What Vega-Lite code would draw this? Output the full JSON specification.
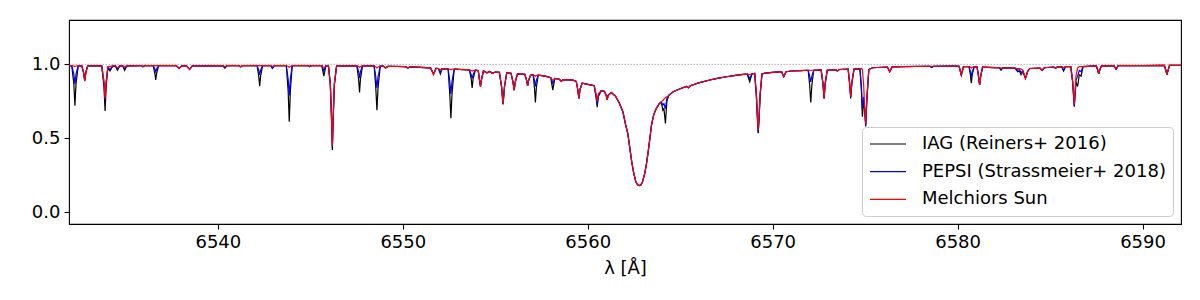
{
"$schema":"https://vega.github.io/schema/vega-lite/v6.json",
"width":1112,"height":204,"autosize":"none",
"padding":{"left":69,"top":20,"right":19,"bottom":76},
"config":{"view":{"stroke":"black","strokeWidth":1.1},
"axis":{"domain":false,"grid":false,"tickColor":"black","tickSize":5,"tickWidth":1.1,"labelFont":"DejaVu Sans","labelFontSize":18,"labelColor":"black","titleFont":"DejaVu Sans","titleFontSize":18,"titleFontWeight":"normal","titleColor":"black","labelPadding":4},
"legend":{"labelFont":"DejaVu Sans","labelFontSize":18,"labelColor":"black"}},
"data":{"values":[
{"w":6531.95,"A":0.992,"B":0.992,"C":0.992},
{"w":6532.10,"A":0.99,"B":0.99,"C":0.992},
{"w":6532.21,"A":0.87,"B":0.935,"C":0.989},
{"w":6532.27,"A":0.72,"B":0.865,"C":0.985},
{"w":6532.33,"A":0.87,"B":0.935,"C":0.989},
{"w":6532.45,"A":0.99,"B":0.99,"C":0.99},
{"w":6532.64,"A":0.99,"B":0.99,"C":0.99},
{"w":6532.74,"A":0.945,"B":0.945,"C":0.94},
{"w":6532.80,"A":0.89,"B":0.89,"C":0.887},
{"w":6532.86,"A":0.945,"B":0.945,"C":0.94},
{"w":6532.96,"A":0.99,"B":0.99,"C":0.99},
{"w":6533.72,"A":0.99,"B":0.99,"C":0.99},
{"w":6533.84,"A":0.85,"B":0.88,"C":0.885},
{"w":6533.90,"A":0.685,"B":0.76,"C":0.77},
{"w":6533.96,"A":0.85,"B":0.88,"C":0.885},
{"w":6534.05,"A":0.975,"B":0.98,"C":0.985},
{"w":6534.17,"A":0.955,"B":0.965,"C":0.985},
{"w":6534.30,"A":0.985,"B":0.988,"C":0.99},
{"w":6534.45,"A":0.99,"B":0.99,"C":0.99},
{"w":6534.57,"A":0.96,"B":0.965,"C":0.975},
{"w":6534.70,"A":0.99,"B":0.99,"C":0.99},
{"w":6534.85,"A":0.99,"B":0.99,"C":0.99},
{"w":6534.96,"A":0.96,"B":0.97,"C":0.985},
{"w":6535.08,"A":0.99,"B":0.99,"C":0.99},
{"w":6535.85,"A":0.992,"B":0.992,"C":0.992},
{"w":6535.95,"A":0.983,"B":0.983,"C":0.985},
{"w":6536.05,"A":0.992,"B":0.992,"C":0.992},
{"w":6536.50,"A":0.992,"B":0.992,"C":0.992},
{"w":6536.59,"A":0.94,"B":0.97,"C":0.991},
{"w":6536.64,"A":0.894,"B":0.95,"C":0.99},
{"w":6536.69,"A":0.94,"B":0.97,"C":0.991},
{"w":6536.80,"A":0.992,"B":0.992,"C":0.992},
{"w":6537.75,"A":0.992,"B":0.992,"C":0.992},
{"w":6537.90,"A":0.973,"B":0.973,"C":0.973},
{"w":6538.05,"A":0.99,"B":0.99,"C":0.99},
{"w":6538.30,"A":0.99,"B":0.99,"C":0.99},
{"w":6538.47,"A":0.966,"B":0.966,"C":0.966},
{"w":6538.62,"A":0.99,"B":0.99,"C":0.99},
{"w":6539.50,"A":0.99,"B":0.99,"C":0.99},
{"w":6540.25,"A":0.992,"B":0.992,"C":0.992},
{"w":6540.38,"A":0.975,"B":0.98,"C":0.985},
{"w":6540.50,"A":0.992,"B":0.992,"C":0.992},
{"w":6541.12,"A":0.992,"B":0.992,"C":0.992},
{"w":6541.23,"A":0.984,"B":0.984,"C":0.984},
{"w":6541.35,"A":0.992,"B":0.992,"C":0.992},
{"w":6542.12,"A":0.992,"B":0.992,"C":0.992},
{"w":6542.21,"A":0.92,"B":0.96,"C":0.991},
{"w":6542.26,"A":0.853,"B":0.928,"C":0.99},
{"w":6542.31,"A":0.92,"B":0.96,"C":0.991},
{"w":6542.42,"A":0.992,"B":0.992,"C":0.992},
{"w":6542.85,"A":0.992,"B":0.992,"C":0.992},
{"w":6542.95,"A":0.973,"B":0.975,"C":0.985},
{"w":6543.05,"A":0.992,"B":0.992,"C":0.992},
{"w":6543.70,"A":0.992,"B":0.992,"C":0.992},
{"w":6543.80,"A":0.82,"B":0.9,"C":0.986},
{"w":6543.86,"A":0.612,"B":0.79,"C":0.98},
{"w":6543.92,"A":0.82,"B":0.9,"C":0.986},
{"w":6544.02,"A":0.992,"B":0.992,"C":0.992},
{"w":6544.85,"A":0.992,"B":0.992,"C":0.992},
{"w":6544.96,"A":0.985,"B":0.985,"C":0.985},
{"w":6545.07,"A":0.992,"B":0.992,"C":0.992},
{"w":6545.62,"A":0.992,"B":0.992,"C":0.992},
{"w":6545.73,"A":0.92,"B":0.955,"C":0.975},
{"w":6545.84,"A":0.99,"B":0.99,"C":0.99},
{"w":6545.98,"A":0.99,"B":0.99,"C":0.99},
{"w":6546.08,"A":0.86,"B":0.87,"C":0.87},
{"w":6546.14,"A":0.65,"B":0.66,"C":0.66},
{"w":6546.19,"A":0.42,"B":0.44,"C":0.45},
{"w":6546.24,"A":0.65,"B":0.66,"C":0.66},
{"w":6546.30,"A":0.86,"B":0.87,"C":0.87},
{"w":6546.42,"A":0.99,"B":0.99,"C":0.99},
{"w":6547.52,"A":0.99,"B":0.99,"C":0.99},
{"w":6547.61,"A":0.9,"B":0.95,"C":0.985},
{"w":6547.66,"A":0.81,"B":0.907,"C":0.98},
{"w":6547.71,"A":0.9,"B":0.95,"C":0.985},
{"w":6547.82,"A":0.99,"B":0.99,"C":0.99},
{"w":6548.45,"A":0.99,"B":0.99,"C":0.99},
{"w":6548.54,"A":0.84,"B":0.915,"C":0.982},
{"w":6548.60,"A":0.69,"B":0.84,"C":0.975},
{"w":6548.66,"A":0.84,"B":0.915,"C":0.982},
{"w":6548.78,"A":0.988,"B":0.988,"C":0.988},
{"w":6548.95,"A":0.988,"B":0.988,"C":0.988},
{"w":6549.07,"A":0.975,"B":0.975,"C":0.975},
{"w":6549.20,"A":0.987,"B":0.987,"C":0.987},
{"w":6550.15,"A":0.984,"B":0.984,"C":0.984},
{"w":6550.27,"A":0.975,"B":0.975,"C":0.975},
{"w":6550.40,"A":0.983,"B":0.983,"C":0.983},
{"w":6551.50,"A":0.976,"B":0.976,"C":0.976},
{"w":6551.66,"A":0.935,"B":0.935,"C":0.93},
{"w":6551.80,"A":0.973,"B":0.973,"C":0.973},
{"w":6551.93,"A":0.972,"B":0.972,"C":0.972},
{"w":6552.03,"A":0.935,"B":0.945,"C":0.96},
{"w":6552.13,"A":0.971,"B":0.971,"C":0.971},
{"w":6552.45,"A":0.969,"B":0.969,"C":0.969},
{"w":6552.54,"A":0.8,"B":0.885,"C":0.967},
{"w":6552.60,"A":0.635,"B":0.8,"C":0.963},
{"w":6552.66,"A":0.8,"B":0.885,"C":0.967},
{"w":6552.78,"A":0.968,"B":0.968,"C":0.968},
{"w":6553.60,"A":0.962,"B":0.962,"C":0.962},
{"w":6553.70,"A":0.9,"B":0.93,"C":0.958},
{"w":6553.75,"A":0.84,"B":0.905,"C":0.955},
{"w":6553.80,"A":0.9,"B":0.93,"C":0.958},
{"w":6553.92,"A":0.96,"B":0.96,"C":0.96},
{"w":6554.08,"A":0.958,"B":0.958,"C":0.958},
{"w":6554.14,"A":0.9,"B":0.9,"C":0.9},
{"w":6554.20,"A":0.85,"B":0.85,"C":0.85},
{"w":6554.26,"A":0.9,"B":0.9,"C":0.9},
{"w":6554.36,"A":0.955,"B":0.955,"C":0.955},
{"w":6554.55,"A":0.943,"B":0.943,"C":0.943},
{"w":6554.70,"A":0.952,"B":0.952,"C":0.952},
{"w":6554.85,"A":0.94,"B":0.94,"C":0.94},
{"w":6555.00,"A":0.948,"B":0.948,"C":0.948},
{"w":6555.22,"A":0.946,"B":0.946,"C":0.946},
{"w":6555.34,"A":0.85,"B":0.85,"C":0.85},
{"w":6555.42,"A":0.73,"B":0.73,"C":0.73},
{"w":6555.50,"A":0.85,"B":0.85,"C":0.85},
{"w":6555.62,"A":0.943,"B":0.943,"C":0.943},
{"w":6555.85,"A":0.94,"B":0.94,"C":0.94},
{"w":6555.96,"A":0.88,"B":0.88,"C":0.88},
{"w":6556.02,"A":0.826,"B":0.826,"C":0.826},
{"w":6556.08,"A":0.88,"B":0.88,"C":0.88},
{"w":6556.20,"A":0.936,"B":0.936,"C":0.936},
{"w":6556.60,"A":0.933,"B":0.933,"C":0.933},
{"w":6556.70,"A":0.89,"B":0.89,"C":0.89},
{"w":6556.75,"A":0.855,"B":0.855,"C":0.855},
{"w":6556.80,"A":0.89,"B":0.89,"C":0.89},
{"w":6556.92,"A":0.929,"B":0.929,"C":0.929},
{"w":6557.05,"A":0.928,"B":0.928,"C":0.928},
{"w":6557.12,"A":0.84,"B":0.89,"C":0.924},
{"w":6557.17,"A":0.743,"B":0.85,"C":0.92},
{"w":6557.22,"A":0.84,"B":0.89,"C":0.924},
{"w":6557.32,"A":0.927,"B":0.927,"C":0.927},
{"w":6557.70,"A":0.92,"B":0.92,"C":0.92},
{"w":6558.00,"A":0.91,"B":0.91,"C":0.91},
{"w":6558.11,"A":0.826,"B":0.87,"C":0.89},
{"w":6558.22,"A":0.905,"B":0.905,"C":0.905},
{"w":6558.47,"A":0.899,"B":0.899,"C":0.899},
{"w":6558.57,"A":0.885,"B":0.885,"C":0.885},
{"w":6558.67,"A":0.897,"B":0.897,"C":0.897},
{"w":6559.20,"A":0.893,"B":0.893,"C":0.893},
{"w":6559.38,"A":0.885,"B":0.885,"C":0.885},
{"w":6559.46,"A":0.83,"B":0.83,"C":0.83},
{"w":6559.52,"A":0.77,"B":0.77,"C":0.77},
{"w":6559.58,"A":0.83,"B":0.83,"C":0.83},
{"w":6559.70,"A":0.872,"B":0.872,"C":0.872},
{"w":6560.00,"A":0.865,"B":0.865,"C":0.865},
{"w":6560.20,"A":0.86,"B":0.86,"C":0.86},
{"w":6560.35,"A":0.855,"B":0.855,"C":0.855},
{"w":6560.45,"A":0.78,"B":0.79,"C":0.8},
{"w":6560.51,"A":0.71,"B":0.725,"C":0.75},
{"w":6560.57,"A":0.78,"B":0.79,"C":0.8},
{"w":6560.72,"A":0.82,"B":0.82,"C":0.82},
{"w":6560.90,"A":0.818,"B":0.818,"C":0.818},
{"w":6561.00,"A":0.79,"B":0.79,"C":0.79},
{"w":6561.05,"A":0.76,"B":0.76,"C":0.76},
{"w":6561.10,"A":0.79,"B":0.79,"C":0.79},
{"w":6561.28,"A":0.81,"B":0.81,"C":0.81},
{"w":6561.50,"A":0.785,"B":0.785,"C":0.785},
{"w":6561.70,"A":0.74,"B":0.74,"C":0.74},
{"w":6561.90,"A":0.68,"B":0.68,"C":0.68},
{"w":6562.05,"A":0.59,"B":0.59,"C":0.59},
{"w":6562.17,"A":0.53,"B":0.53,"C":0.53},
{"w":6562.28,"A":0.43,"B":0.43,"C":0.43},
{"w":6562.38,"A":0.34,"B":0.34,"C":0.34},
{"w":6562.48,"A":0.27,"B":0.27,"C":0.27},
{"w":6562.60,"A":0.205,"B":0.205,"C":0.205},
{"w":6562.70,"A":0.185,"B":0.185,"C":0.185},
{"w":6562.78,"A":0.18,"B":0.18,"C":0.18},
{"w":6562.86,"A":0.183,"B":0.183,"C":0.183},
{"w":6562.95,"A":0.2,"B":0.2,"C":0.2},
{"w":6563.08,"A":0.26,"B":0.26,"C":0.26},
{"w":6563.18,"A":0.33,"B":0.33,"C":0.33},
{"w":6563.27,"A":0.41,"B":0.41,"C":0.41},
{"w":6563.36,"A":0.5,"B":0.5,"C":0.5},
{"w":6563.45,"A":0.59,"B":0.59,"C":0.59},
{"w":6563.57,"A":0.66,"B":0.66,"C":0.66},
{"w":6563.70,"A":0.7,"B":0.7,"C":0.7},
{"w":6563.88,"A":0.735,"B":0.735,"C":0.735},
{"w":6563.98,"A":0.745,"B":0.745,"C":0.748},
{"w":6564.06,"A":0.69,"B":0.725,"C":0.755},
{"w":6564.12,"A":0.7,"B":0.735,"C":0.765},
{"w":6564.20,"A":0.6,"B":0.7,"C":0.775},
{"w":6564.28,"A":0.75,"B":0.77,"C":0.78},
{"w":6564.38,"A":0.79,"B":0.79,"C":0.79},
{"w":6564.62,"A":0.815,"B":0.815,"C":0.815},
{"w":6565.00,"A":0.835,"B":0.835,"C":0.835},
{"w":6565.34,"A":0.85,"B":0.85,"C":0.85},
{"w":6565.45,"A":0.842,"B":0.842,"C":0.842},
{"w":6565.55,"A":0.855,"B":0.855,"C":0.855},
{"w":6566.00,"A":0.875,"B":0.875,"C":0.875},
{"w":6566.60,"A":0.894,"B":0.894,"C":0.894},
{"w":6567.00,"A":0.905,"B":0.905,"C":0.905},
{"w":6567.50,"A":0.916,"B":0.916,"C":0.916},
{"w":6568.00,"A":0.926,"B":0.926,"C":0.926},
{"w":6568.40,"A":0.932,"B":0.932,"C":0.932},
{"w":6568.62,"A":0.934,"B":0.934,"C":0.934},
{"w":6568.76,"A":0.882,"B":0.905,"C":0.93},
{"w":6568.88,"A":0.936,"B":0.936,"C":0.936},
{"w":6569.03,"A":0.938,"B":0.938,"C":0.938},
{"w":6569.12,"A":0.78,"B":0.79,"C":0.8},
{"w":6569.18,"A":0.62,"B":0.63,"C":0.64},
{"w":6569.22,"A":0.534,"B":0.54,"C":0.556},
{"w":6569.26,"A":0.62,"B":0.63,"C":0.64},
{"w":6569.32,"A":0.78,"B":0.79,"C":0.8},
{"w":6569.42,"A":0.935,"B":0.935,"C":0.935},
{"w":6569.60,"A":0.94,"B":0.94,"C":0.94},
{"w":6570.00,"A":0.946,"B":0.946,"C":0.946},
{"w":6570.48,"A":0.95,"B":0.95,"C":0.95},
{"w":6570.60,"A":0.916,"B":0.916,"C":0.916},
{"w":6570.72,"A":0.95,"B":0.95,"C":0.95},
{"w":6571.00,"A":0.955,"B":0.955,"C":0.955},
{"w":6571.50,"A":0.958,"B":0.958,"C":0.958},
{"w":6571.92,"A":0.96,"B":0.96,"C":0.96},
{"w":6572.00,"A":0.86,"B":0.92,"C":0.96},
{"w":6572.06,"A":0.743,"B":0.882,"C":0.957},
{"w":6572.12,"A":0.86,"B":0.92,"C":0.96},
{"w":6572.22,"A":0.96,"B":0.96,"C":0.96},
{"w":6572.62,"A":0.962,"B":0.962,"C":0.962},
{"w":6572.72,"A":0.87,"B":0.87,"C":0.87},
{"w":6572.78,"A":0.77,"B":0.77,"C":0.77},
{"w":6572.84,"A":0.87,"B":0.87,"C":0.87},
{"w":6572.95,"A":0.96,"B":0.96,"C":0.96},
{"w":6573.40,"A":0.964,"B":0.964,"C":0.964},
{"w":6573.50,"A":0.955,"B":0.955,"C":0.955},
{"w":6573.60,"A":0.965,"B":0.965,"C":0.965},
{"w":6574.08,"A":0.968,"B":0.968,"C":0.968},
{"w":6574.16,"A":0.87,"B":0.875,"C":0.877},
{"w":6574.22,"A":0.77,"B":0.78,"C":0.785},
{"w":6574.28,"A":0.87,"B":0.875,"C":0.877},
{"w":6574.40,"A":0.968,"B":0.968,"C":0.968},
{"w":6574.72,"A":0.97,"B":0.97,"C":0.97},
{"w":6574.80,"A":0.82,"B":0.85,"C":0.972},
{"w":6574.85,"A":0.646,"B":0.7,"C":0.965},
{"w":6574.92,"A":0.75,"B":0.78,"C":0.86},
{"w":6574.97,"A":0.7,"B":0.71,"C":0.72},
{"w":6575.03,"A":0.58,"B":0.59,"C":0.6},
{"w":6575.09,"A":0.75,"B":0.76,"C":0.77},
{"w":6575.20,"A":0.965,"B":0.965,"C":0.965},
{"w":6575.40,"A":0.977,"B":0.977,"C":0.977},
{"w":6576.20,"A":0.982,"B":0.982,"C":0.982},
{"w":6576.33,"A":0.95,"B":0.95,"C":0.95},
{"w":6576.46,"A":0.983,"B":0.983,"C":0.983},
{"w":6577.00,"A":0.985,"B":0.985,"C":0.985},
{"w":6578.50,"A":0.987,"B":0.987,"C":0.987},
{"w":6578.60,"A":0.978,"B":0.982,"C":0.987},
{"w":6578.70,"A":0.987,"B":0.987,"C":0.987},
{"w":6579.80,"A":0.988,"B":0.988,"C":0.988},
{"w":6580.08,"A":0.987,"B":0.987,"C":0.987},
{"w":6580.20,"A":0.928,"B":0.928,"C":0.928},
{"w":6580.32,"A":0.985,"B":0.985,"C":0.985},
{"w":6580.62,"A":0.984,"B":0.984,"C":0.984},
{"w":6580.69,"A":0.93,"B":0.95,"C":0.98},
{"w":6580.74,"A":0.872,"B":0.91,"C":0.975},
{"w":6580.79,"A":0.93,"B":0.95,"C":0.98},
{"w":6580.90,"A":0.983,"B":0.983,"C":0.983},
{"w":6581.05,"A":0.983,"B":0.983,"C":0.983},
{"w":6581.13,"A":0.92,"B":0.92,"C":0.92},
{"w":6581.19,"A":0.86,"B":0.86,"C":0.86},
{"w":6581.25,"A":0.92,"B":0.92,"C":0.92},
{"w":6581.35,"A":0.981,"B":0.981,"C":0.981},
{"w":6582.00,"A":0.978,"B":0.978,"C":0.978},
{"w":6582.25,"A":0.978,"B":0.978,"C":0.978},
{"w":6582.35,"A":0.96,"B":0.965,"C":0.975},
{"w":6582.45,"A":0.977,"B":0.977,"C":0.977},
{"w":6583.10,"A":0.975,"B":0.975,"C":0.975},
{"w":6583.25,"A":0.95,"B":0.96,"C":0.972},
{"w":6583.34,"A":0.955,"B":0.965,"C":0.972},
{"w":6583.43,"A":0.93,"B":0.945,"C":0.968},
{"w":6583.53,"A":0.95,"B":0.955,"C":0.96},
{"w":6583.67,"A":0.905,"B":0.905,"C":0.905},
{"w":6583.78,"A":0.95,"B":0.95,"C":0.95},
{"w":6583.90,"A":0.972,"B":0.972,"C":0.972},
{"w":6584.45,"A":0.975,"B":0.975,"C":0.975},
{"w":6584.57,"A":0.96,"B":0.96,"C":0.96},
{"w":6584.69,"A":0.977,"B":0.977,"C":0.977},
{"w":6585.20,"A":0.982,"B":0.982,"C":0.982},
{"w":6585.30,"A":0.973,"B":0.973,"C":0.973},
{"w":6585.40,"A":0.983,"B":0.983,"C":0.983},
{"w":6585.63,"A":0.983,"B":0.983,"C":0.983},
{"w":6585.73,"A":0.955,"B":0.96,"C":0.978},
{"w":6585.83,"A":0.984,"B":0.984,"C":0.984},
{"w":6586.12,"A":0.985,"B":0.985,"C":0.985},
{"w":6586.22,"A":0.88,"B":0.885,"C":0.89},
{"w":6586.31,"A":0.714,"B":0.72,"C":0.73},
{"w":6586.40,"A":0.88,"B":0.89,"C":0.92},
{"w":6586.49,"A":0.85,"B":0.92,"C":0.975},
{"w":6586.58,"A":0.93,"B":0.96,"C":0.985},
{"w":6586.68,"A":0.92,"B":0.95,"C":0.985},
{"w":6586.78,"A":0.985,"B":0.985,"C":0.985},
{"w":6587.50,"A":0.99,"B":0.99,"C":0.99},
{"w":6587.58,"A":0.96,"B":0.96,"C":0.96},
{"w":6587.63,"A":0.935,"B":0.935,"C":0.935},
{"w":6587.68,"A":0.96,"B":0.96,"C":0.96},
{"w":6587.78,"A":0.99,"B":0.99,"C":0.99},
{"w":6588.45,"A":0.991,"B":0.991,"C":0.991},
{"w":6588.57,"A":0.968,"B":0.968,"C":0.968},
{"w":6588.69,"A":0.991,"B":0.991,"C":0.991},
{"w":6590.00,"A":0.992,"B":0.992,"C":0.992},
{"w":6591.18,"A":0.993,"B":0.993,"C":0.993},
{"w":6591.27,"A":0.955,"B":0.955,"C":0.955},
{"w":6591.32,"A":0.93,"B":0.93,"C":0.93},
{"w":6591.37,"A":0.955,"B":0.955,"C":0.955},
{"w":6591.46,"A":0.993,"B":0.993,"C":0.993},
{"w":6592.08,"A":0.993,"B":0.993,"C":0.993}
]},
"layer":[
{"data":{"values":[{"k":1}]},
 "mark":{"type":"rule","strokeDash":[1.5,1.5],"color":"#999999","strokeWidth":0.8},
 "encoding":{"y":{"datum":1}}},
{"transform":[{"fold":["A","B","C"],"as":["s","f"]}],
 "mark":{"type":"line","strokeWidth":1.2,"clip":true},
 "encoding":{
  "x":{"field":"w","type":"quantitative","scale":{"domain":[6531.95,6592.08],"nice":false,"zero":false},
       "axis":{"values":[6540,6550,6560,6570,6580,6590],"format":"d","title":"λ [Å]","titlePadding":8}},
  "y":{"field":"f","type":"quantitative","scale":{"domain":[-0.08,1.3],"nice":false,"zero":false},
       "axis":{"values":[0,0.5,1],"format":".1f","title":null}},
  "color":{"field":"s","type":"nominal","scale":{"domain":["A","B","C"],"range":["black","blue","red"]},
   "legend":{"title":null,"orient":"bottom-right","offset":8,"padding":7,"strokeColor":"#cccccc","fillColor":"rgba(255,255,255,0.8)","cornerRadius":4,
     "symbolType":"M-1,0H3","symbolSize":324,"symbolStrokeWidth":1.2,"symbolOpacity":1,"symbolFillColor":"transparent","labelOffset":33,"rowPadding":8.7,"labelLimit":400,
     "labelExpr":"datum.value=='A'?'IAG (Reiners+ 2016)':datum.value=='B'?'PEPSI (Strassmeier+ 2018)':'Melchiors Sun'"}},
  "order":{"field":"w","type":"quantitative"}}}
]}
